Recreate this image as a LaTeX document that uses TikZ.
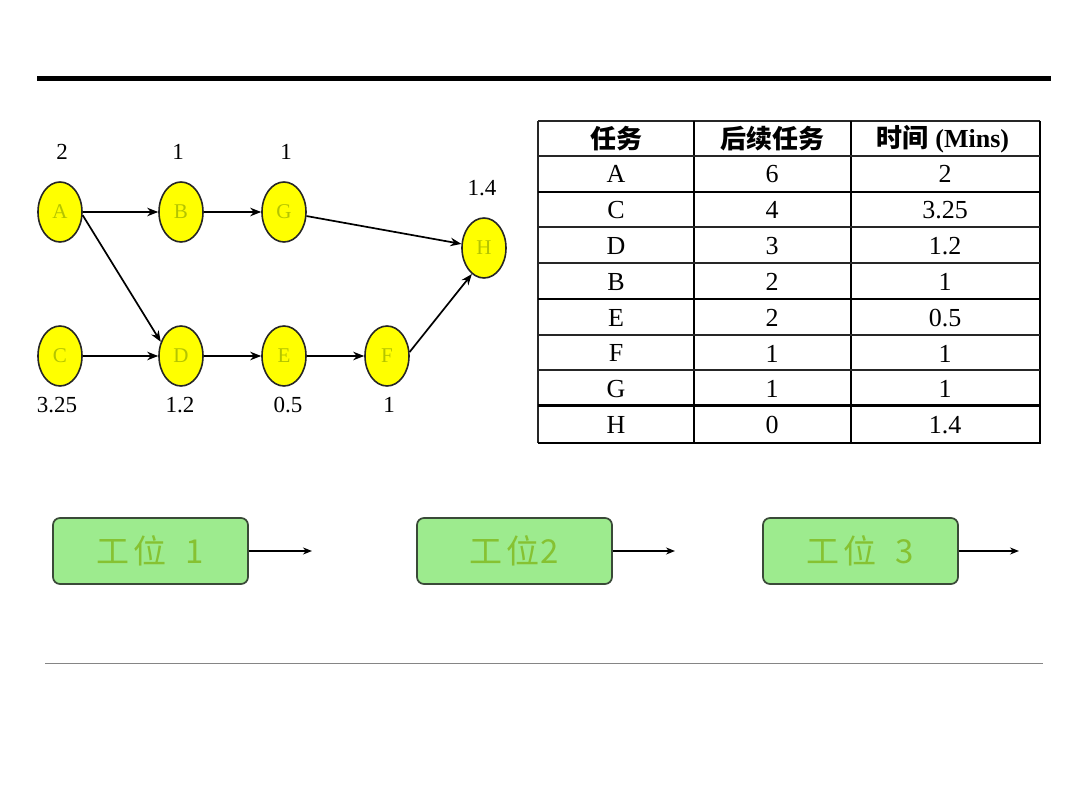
\documentclass[tikz,border=0pt]{standalone}
\usepackage{fontspec}
\setmainfont{Liberation Serif}
\newfontfamily\cjk{Noto Sans CJK SC}
\usetikzlibrary{shapes.geometric,arrows.meta}
\definecolor{nodeyel}{HTML}{FFFF00}
\definecolor{lettercol}{HTML}{B4C400}
\definecolor{boxfill}{HTML}{9DEB8E}
\definecolor{boxtext}{HTML}{86C232}
\definecolor{boxedge}{HTML}{3A4A38}
\definecolor{rulegray}{HTML}{858585}
\tikzset{
  task/.style={ellipse, draw=black!85, line width=1.6pt, fill=nodeyel, minimum width=44pt, minimum height=60pt, inner sep=0pt, text=lettercol, font=\fontsize{21}{21}\selectfont},
  lab/.style={font=\fontsize{23}{23}\selectfont, inner sep=0pt},
  arr/.style={line width=1.7pt, -{Stealth[length=11pt,width=8.5pt]}},
  cell/.style={font=\fontsize{26}{26}\selectfont, inner sep=0pt},
  hcell/.style={font=\fontsize{26}{26}\selectfont\bfseries, inner sep=0pt},
  station/.style={draw=boxedge, line width=1.7pt, fill=boxfill, rounded corners=7pt, minimum width=195pt, minimum height=66pt, inner sep=0pt, text=boxtext, font=\cjk\fontsize{33}{33}\selectfont},
  tline/.style={line width=1.5pt, black!85},
  tthick/.style={line width=2.4pt, black},
  sarr/.style={line width=1.6pt, -{Stealth[length=9pt,width=7pt]}}
}
\begin{document}
\begin{tikzpicture}[x=1pt,y=-1pt]
\useasboundingbox (0,0) rectangle (1080,810);
\fill[white] (0,0) rectangle (1080,810);
% rules
\coordinate (tl) at (37,78.5); \coordinate (tr) at (1051,78.5);
\draw[line width=5pt, black] (tl) -- (tr);
\coordinate (bl) at (45,663.5); \coordinate (br) at (1043,663.5);
\draw[line width=1.8pt, rulegray] (bl) -- (br);
% network
\node[task] (A) at (60,212) {A};
\node[task] (B) at (181,212) {B};
\node[task] (G) at (284,212) {G};
\node[task] (H) at (484,248) {H};
\node[task] (C) at (60,356) {C};
\node[task] (D) at (181,356) {D};
\node[task] (E) at (284,356) {E};
\node[task] (F) at (387,356) {F};
\node[lab] (lA) at (62,152) {2};
\node[lab] (lB) at (178,152) {1};
\node[lab] (lG) at (286,152) {1};
\node[lab] (lH) at (482,188) {1.4};
\node[lab] (lC) at (57,405) {3.25};
\node[lab] (lD) at (180,405) {1.2};
\node[lab] (lE) at (288,405) {0.5};
\node[lab] (lF) at (389,405) {1};
\draw[arr] (A) -- (B);
\draw[arr] (B) -- (G);
\draw[arr] (G) -- (H);
\draw[arr] (A.-8) -- (D.145);
\draw[arr] (C) -- (D);
\draw[arr] (D) -- (E);
\draw[arr] (E) -- (F);
\draw[arr] (F.10) -- (H.-115);
% table lines
\draw[tline] (538,121) -- (1040,121);
\draw[tline] (538,121) -- (538,443);
\draw[tthick] (1040,121) -- (1040,443);
\draw[line width=2.8pt] (538,443) -- (1041,443);
\draw[tthick] (694,121) -- (694,443);
\draw[tthick] (851,121) -- (851,443);
\draw[tline] (538,156) -- (1040,156);
\draw[tthick] (538,192) -- (1040,192);
\draw[tline] (538,227) -- (1040,227);
\draw[tline] (538,263) -- (1040,263);
\draw[tthick] (538,299) -- (1040,299);
\draw[tline] (538,335) -- (1040,335);
\draw[tline] (538,370) -- (1040,370);
\draw[line width=3pt] (538,406) -- (1040,406);
% table text
\node[hcell] (h1) at (616,139) {\cjk 任务};
\node[hcell] (h2) at (772,139) {\cjk 后续任务};
\node[hcell] (h3) at (943,139) {{\cjk 时间} (Mins)};
\foreach \t/\s/\m [count=\i] in {A/6/2, C/4/3.25, D/3/1.2, B/2/1, E/2/0.5, F/1/1, G/1/1, H/0/1.4}{
  \pgfmathsetmacro{\yy}{156+35.9*(\i-0.5)}
  \node[cell] (t\i) at (616,\yy) {\t};
  \node[cell] (s\i) at (772,\yy) {\s};
  \node[cell] (m\i) at (945,\yy) {\m};
}
% stations
\node[station] (S1) at (150.5,551) {工\hspace{0.1em}位\hspace{0.6em}1};
\node[station] (S2) at (514.5,551) {工\hspace{0.1em}位\hspace{0.05em}2};
\node[station] (S3) at (860.5,551) {工\hspace{0.1em}位\hspace{0.6em}3};
\coordinate (e1) at (312,551);
\coordinate (e2) at (675,551);
\coordinate (e3) at (1019,551);
\draw[sarr] (S1) -- (e1);
\draw[sarr] (S2) -- (e2);
\draw[sarr] (S3) -- (e3);
\end{tikzpicture}
\end{document}
